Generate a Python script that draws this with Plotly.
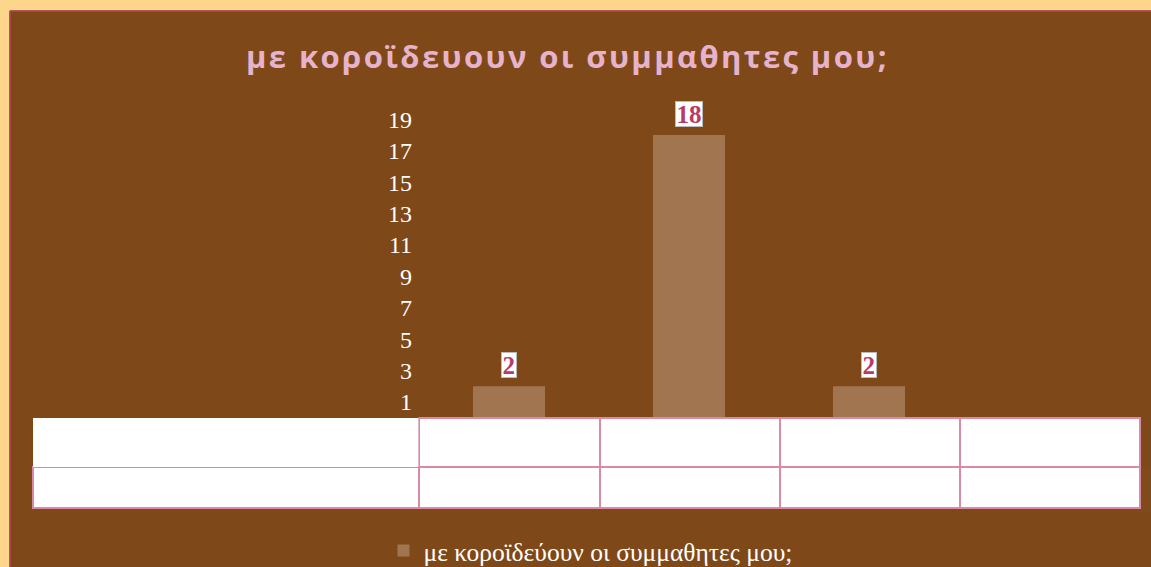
import plotly.graph_objects as go

title_text = "με κοροϊδευουν οι συμμαθητες μου;"
series_name = "με κοροϊδεύουν οι συμμαθητες μου;"
values = [2, 18, 2, None]
positions = list(range(len(values)))
y_ticks = [1, 3, 5, 7, 9, 11, 13, 15, 17, 19]

W, H = 1151, 567
BROWN = "#7F4819"
BAR = "#A07550"
PINK_LINE = "#D88AA8"
LABEL_PINK = "#B83A66"
TITLE_PINK = "#E6B3CC"
YELLOW = "#FCD68A"
EDGE = "#B8405A"

def px_x(p):
    return p / W

def px_y(p):
    return 1 - p / H

fig = go.Figure()

fig.add_trace(go.Bar(
    x=positions, y=values, name=series_name,
    marker=dict(color=BAR, line=dict(width=0)),
    width=0.4, showlegend=True,
))

for xv, yv in zip(positions, values):
    if yv is None:
        continue
    label = str(yv)
    fig.add_annotation(
        x=xv, y=yv, xref="x", yref="y", text=f"<b>{label}</b>",
        showarrow=False, yanchor="bottom", yshift=8,
        width=12.5 * len(label) + 1, height=24,
        font=dict(family="Liberation Serif", size=25, color=LABEL_PINK),
        bgcolor="white", bordercolor="#BBBBBB", borderwidth=1, borderpad=0,
    )

n = len(values)
fig.add_trace(go.Table(
    domain=dict(x=[px_x(33), px_x(1140)], y=[px_y(512), px_y(418)]),
    columnwidth=[386] + [180] * n,
    header=dict(
        values=[""] * (n + 1), height=49,
        fill=dict(color="white"),
        line=dict(color=["rgba(255,255,255,0)"] + [PINK_LINE] * n, width=2),
    ),
    cells=dict(
        values=[[""]] * (n + 1), height=41,
        fill=dict(color="white"),
        line=dict(color=PINK_LINE, width=2),
    ),
))

# yellow frame (top and left) around the brown chart area
fig.add_shape(type="rect", xref="paper", yref="paper",
              x0=-0.01, x1=1.01, y0=px_y(10.5), y1=1.01,
              fillcolor=YELLOW, line=dict(width=0), layer="below")
fig.add_shape(type="rect", xref="paper", yref="paper",
              x0=-0.01, x1=px_x(9.5), y0=-0.01, y1=1.01,
              fillcolor=YELLOW, line=dict(width=0), layer="below")
fig.add_shape(type="line", xref="paper", yref="paper",
              x0=px_x(10), x1=1.01, y0=px_y(11), y1=px_y(11),
              line=dict(color=EDGE, width=1.5), layer="below")
fig.add_shape(type="line", xref="paper", yref="paper",
              x0=px_x(10), x1=px_x(10), y0=-0.01, y1=px_y(11),
              line=dict(color=EDGE, width=1.5), layer="below")

fig.update_layout(
    width=W, height=H,
    margin=dict(l=0, r=0, t=0, b=0, autoexpand=False),
    paper_bgcolor=BROWN, plot_bgcolor="rgba(0,0,0,0)",
    title=dict(text=f"<b>{title_text}</b>", x=0.493, xanchor="center",
               y=px_y(57), yanchor="middle",
               font=dict(family="Open Sans", size=31, color=TITLE_PINK)),
    xaxis=dict(domain=[px_x(419), px_x(1139)], range=[-0.5, n - 0.5],
               showticklabels=False, showgrid=False, zeroline=False,
               showline=False, fixedrange=True),
    yaxis=dict(domain=[px_y(417.7), px_y(103.7)], range=[0, 20],
               tickmode="array", tickvals=y_ticks,
               showgrid=False, zeroline=False, showline=False,
               tickfont=dict(family="Liberation Serif", size=24, color="white"),
               ticks="", ticklabelstandoff=6, fixedrange=True),
    legend=dict(orientation="h", x=0.513, xanchor="center", y=px_y(551), yanchor="middle",
                itemwidth=30,
                font=dict(family="Liberation Serif", size=25.5, color="white"),
                bgcolor="rgba(0,0,0,0)"),
    showlegend=True,
)

post = """
document.documentElement.style.margin='0';
document.body.style.margin='0';
document.body.style.overflow='hidden';
document.body.style.background='#7F4819';
var gd = document.getElementById('{plot_id}');
function fixTitle(){
  var t = gd.querySelector('.gtitle');
  if (t) { t.style.letterSpacing = '2.4px'; }
}
fixTitle();
setTimeout(fixTitle, 30);
setTimeout(fixTitle, 300);
if (gd.on) { gd.on('plotly_afterplot', fixTitle); }
"""

fig.write_html("out.html", post_script=post, config={"displayModeBar": False})
